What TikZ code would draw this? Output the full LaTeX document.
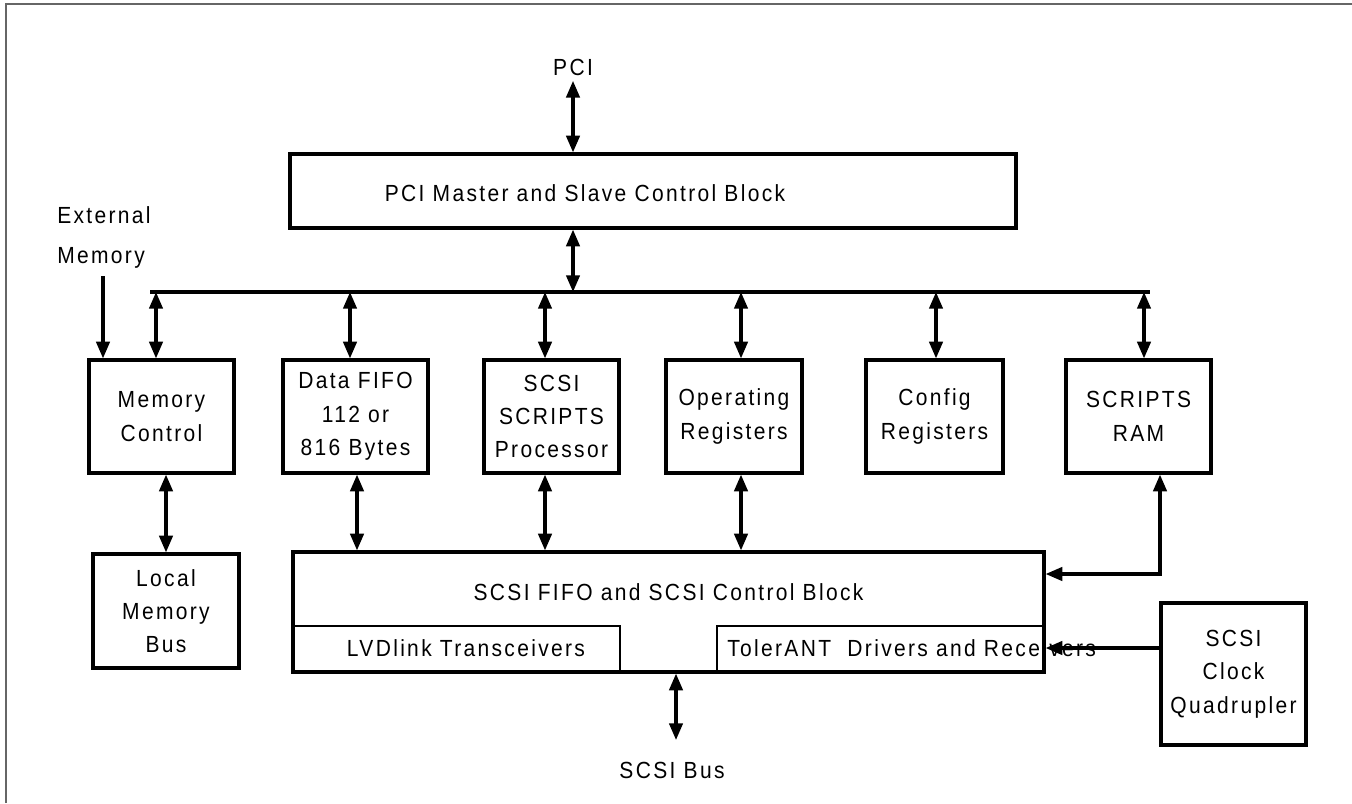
\documentclass[tikz,border=0pt]{standalone}
\usepackage{fontspec}
\setmainfont{Liberation Sans}[FakeStretch=0.9, LetterSpace=10]
\usetikzlibrary{arrows.meta}

\tikzset{
  every node/.style={font=\fontsize{17.5}{25}\selectfont},
  blk/.style={draw, line width=2.4pt, inner sep=0pt, align=center},
  sub/.style={draw, line width=1.5pt, inner sep=0pt},
  lbl/.style={inner sep=0pt, align=center},
  dbl/.style={line width=2.4pt, {Triangle[length=12.5pt,width=10pt]}-{Triangle[length=12.5pt,width=10pt]}},
  sgl/.style={line width=2.4pt, -{Triangle[length=12.5pt,width=10pt]}},
}

\begin{document}
\begin{tikzpicture}[x=0.75pt, y=-0.75pt]
    \useasboundingbox (0,0) rectangle (1352,803);
    % Frame
    \draw[line width=1.5pt, black!60] (6,803) -- (6,3.5) -- (1352,3.5);

    % PCI side
    \node[lbl, inner sep=4pt] (pci) at (573,67) {PCI};
    \node[blk, minimum width=544.5pt, minimum height=55.5pt] (pcib) at (653,191) {};
    \node[lbl] (pcibt) at (585,193) {PCI Master and Slave Control Block};
    \draw[dbl] (pci.south) -- (pci.south |- pcib.north);

    % Internal bus
    \coordinate (busL) at (150,292);
    \coordinate (busR) at (1150,292);
    \coordinate (pcitap) at (573,292);
    \draw[line width=2.4pt] (busL) -- (busR);
    \draw[dbl] (pcitap |- pcib.south) -- (pcitap);

    % Define blocks on the bus
    \node[blk, minimum width=108.75pt, minimum height=84.75pt] (memctl) at (161.5,416.5) {Memory\\Control};
    \node[blk, minimum width=108.75pt, minimum height=84.75pt] (fifo) at (355.5,416.5) {Data FIFO\\112 or\\816 Bytes};
    \node[blk, minimum width=101.25pt, minimum height=84.75pt] (proc) at (551.5,416.5) {SCSI\\SCRIPTS\\Processor};
    \node[blk, minimum width=102pt, minimum height=84.75pt] (opreg) at (734,416.5) {Operating\\Registers};
    \node[blk, minimum width=102.75pt, minimum height=84.75pt] (cfgreg) at (934.5,416.5) {Config\\Registers};
    \node[blk, minimum width=108.75pt, minimum height=84.75pt] (ram) at (1138.5,416.5) {SCRIPTS\\RAM};

    \foreach \tx/\tn in {156/memctl, 350/fifo, 545/proc, 741/opreg, 936/cfgreg, 1144/ram}{
        \coordinate (tap) at (\tx,292);
        \draw[dbl] (tap) -- (tap |- \tn.north);
    }

    % External memory
    \node[lbl, align=left, anchor=west] (extmem) at (57,237) {External\\[5pt]Memory};
    \coordinate (extin) at (103,276);
    \draw[sgl] (extin) -- (extin |- memctl.north);

    % Local memory bus
    \node[blk, minimum width=109.5pt, minimum height=85.5pt] (localbus) at (166,611) {Local\\Memory\\Bus};
    \draw[dbl] (memctl.south -| localbus.north) -- (localbus.north);

    % SCSI block
    \node[blk, minimum width=563.25pt, minimum height=90pt] (scsiblk) at (668.5,612) {};
    \node[lbl] (scsiblkt) at (668.5,592) {SCSI FIFO and SCSI Control Block};
    \node[sub, minimum width=245.25pt, minimum height=34.5pt] (lvd) at (456.5,649) {};
    \node[lbl] (lvdt) at (466,648) {LVDlink Transceivers};
    \node[sub, minimum width=245.25pt, minimum height=34.5pt] (toler) at (880.5,649) {};
    \node[lbl, anchor=west] (tolert) at (727,648) {TolerANT\ \ Drivers and Receivers};

    \foreach \tx/\tn in {357/fifo, 545/proc, 741/opreg}{
        \coordinate (tap) at (\tx,552);
        \draw[dbl] (tap |- \tn.south) -- (tap |- scsiblk.north);
    }

    % SCRIPTS RAM to SCSI block
    \coordinate (ramtap) at (1160,574);
    \draw[dbl] (ramtap |- ram.south) -- (ramtap) -- (ramtap -| scsiblk.east);

    % Clock
    \node[blk, minimum width=108.75pt, minimum height=106.5pt] (clock) at (1233.5,674) {SCSI\\Clock\\Quadrupler};
    \draw[sgl] (clock.west |- tolert) -- (scsiblk.east |- tolert);

    % SCSI bus
    \node[lbl] (scsibus) at (672,770) {SCSI Bus};
    \coordinate (sbtap) at (676,740);
    \draw[dbl] (sbtap |- scsiblk.south) -- (sbtap);
\end{tikzpicture}
\end{document}
